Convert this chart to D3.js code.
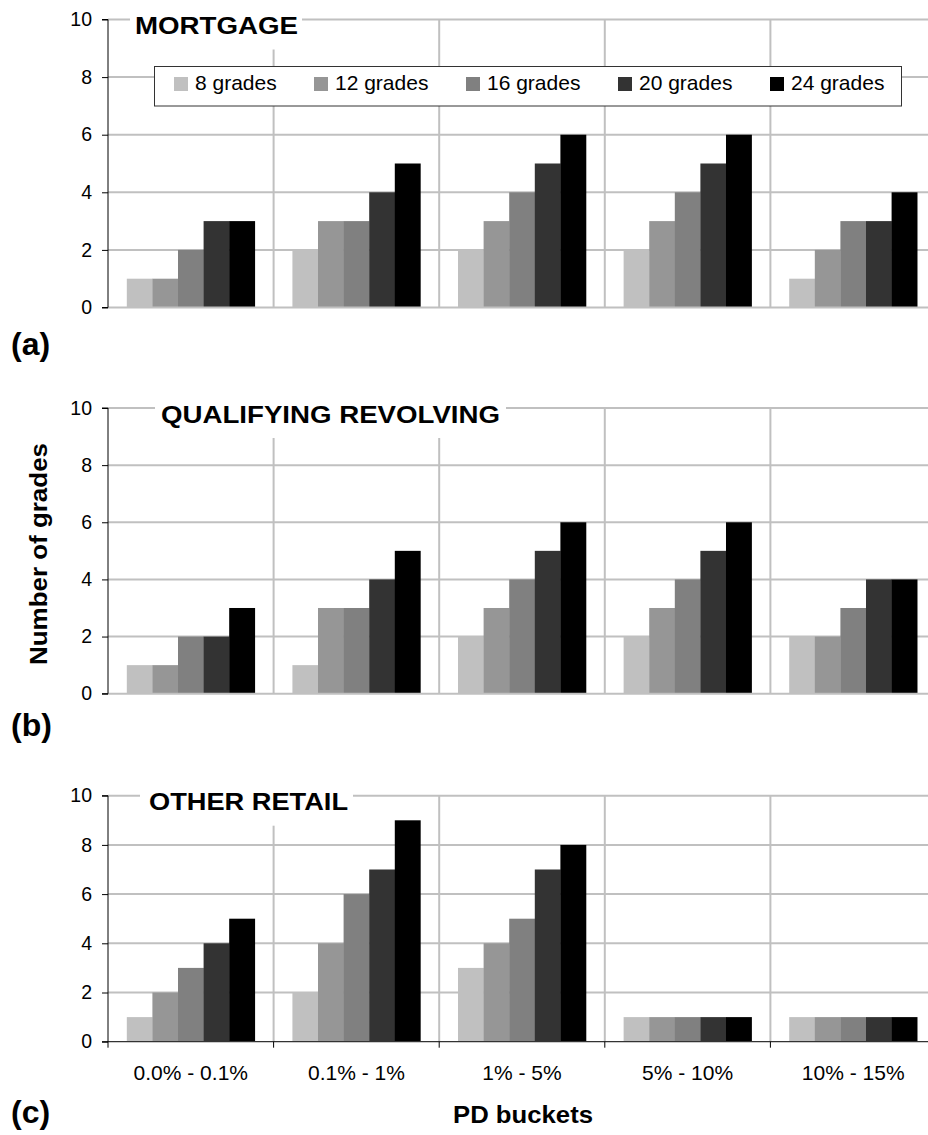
<!DOCTYPE html>
<html>
<head>
<meta charset="utf-8">
<script src="https://cdn.jsdelivr.net/npm/d3@7"></script>
<style>
  html, body { margin: 0; padding: 0; background: #fff; }
  svg { display: block; }
  text { font-family: "Liberation Sans", Arial, sans-serif; }
</style>
</head>
<body>
<svg id="chart" width="928" height="1135"></svg>
<script>
// ---------- data ----------
const categories = ["0.0% - 0.1%", "0.1% - 1%", "1% - 5%", "5% - 10%", "10% - 15%"];
const seriesNames = ["8 grades", "12 grades", "16 grades", "20 grades", "24 grades"];
const seriesColors = ["#c0c0c0", "#969696", "#808080", "#333333", "#000000"];
// values per category, in series order
const mortgage = [[1, 1, 2, 3, 3], [2, 3, 3, 4, 5], [2, 3, 4, 5, 6], [2, 3, 4, 5, 6], [1, 2, 3, 3, 4]];
const qualifyingRevolving = [[1, 1, 2, 2, 3], [1, 3, 3, 4, 5], [2, 3, 4, 5, 6], [2, 3, 4, 5, 6], [2, 2, 3, 4, 4]];
const otherRetail = [[1, 2, 3, 4, 5], [2, 4, 6, 7, 9], [3, 4, 5, 7, 8], [1, 1, 1, 1, 1], [1, 1, 1, 1, 1]];
const yTicks = [0, 2, 4, 6, 8, 10];
const panelTitles = ["MORTGAGE", "QUALIFYING REVOLVING", "OTHER RETAIL"];
const panelLetters = ["(a)", "(b)", "(c)"];
const yAxisTitle = "Number of grades";
const xAxisTitle = "PD buckets";

// ---------- layout ----------
const svg = d3.select("#chart");
const left = 108, right = 936;
const grid = "#c0c0c0";
const gridW = 2;

const x0 = d3.scaleBand().domain(categories).range([left, right]).paddingInner(0).paddingOuter(0);
const x1 = d3.scaleBand().domain(seriesNames).range([0, x0.bandwidth()]).paddingInner(0).paddingOuter(0.735);
const legendX = d3.scaleOrdinal().domain(seriesNames).range([174, 314, 466, 618, 770]);

const panels = [
  { data: mortgage, top: 19.5, bottom: 307.5, titleX: 135, titleW: 163, boxX: 130, boxW: 172, letterY: 355, darkBase: false },
  { data: qualifyingRevolving, top: 408, bottom: 693.7, titleX: 161, titleW: 339, boxX: 155, boxW: 351, letterY: 736, darkBase: false },
  { data: otherRetail, top: 795.7, bottom: 1041.7, titleX: 149, titleW: 199, boxX: 140, boxW: 213, letterY: 1123, darkBase: true }
];

panels.forEach((p, pi) => {
  const y = d3.scaleLinear().domain([0, 10]).range([p.bottom, p.top]);
  const g = svg.append("g");

  // horizontal gridlines
  g.selectAll("line.hgrid").data(yTicks.filter(d => d > 0)).join("line")
    .attr("x1", left).attr("x2", right)
    .attr("y1", d => y(d)).attr("y2", d => y(d))
    .attr("stroke", grid).attr("stroke-width", gridW);

  // vertical gridlines at category boundaries
  g.selectAll("line.vgrid").data(categories.slice(1)).join("line")
    .attr("x1", d => x0(d)).attr("x2", d => x0(d))
    .attr("y1", y(10)).attr("y2", y(0))
    .attr("stroke", grid).attr("stroke-width", gridW);

  // title box (white) covering gridlines
  g.append("rect")
    .attr("x", p.boxX).attr("y", y(10) - 12)
    .attr("width", p.boxW).attr("height", 42)
    .attr("fill", "#fff");
  g.append("text")
    .attr("x", p.titleX).attr("y", y(10) + 14.5)
    .attr("font-size", 24).attr("font-weight", "bold")
    .attr("textLength", p.titleW).attr("lengthAdjust", "spacingAndGlyphs")
    .attr("fill", "#000")
    .text(panelTitles[pi]);

  // bars
  const groups = g.selectAll("g.cat").data(p.data).join("g")
    .attr("transform", (d, i) => `translate(${x0(categories[i])},0)`);
  groups.selectAll("rect").data(d => d.map((v, j) => ({ v, s: seriesNames[j], c: seriesColors[j] }))).join("rect")
    .attr("x", d => x1(d.s))
    .attr("width", x1.bandwidth() + 0.3)
    .attr("y", d => y(d.v))
    .attr("height", d => y(0) - y(d.v))
    .attr("fill", d => d.c);

  // baseline
  g.append("line")
    .attr("x1", left).attr("x2", right)
    .attr("y1", y(0)).attr("y2", y(0))
    .attr("stroke", p.darkBase ? "#333" : grid)
    .attr("stroke-width", p.darkBase ? 1.3 : gridW);

  if (p.darkBase) {
    // boundary ticks
    g.selectAll("line.xtick").data(categories.concat(["end"])).join("line")
      .attr("x1", (d, i) => i < categories.length ? x0(d) : right)
      .attr("x2", (d, i) => i < categories.length ? x0(d) : right)
      .attr("y1", y(0)).attr("y2", y(0) + 6)
      .attr("stroke", "#000").attr("stroke-width", 1);
    // category labels
    const xa = g.append("g").attr("transform", `translate(0,${y(0)})`)
      .call(d3.axisBottom(x0).tickSize(0).tickPadding(23));
    xa.select(".domain").remove();
    xa.selectAll("text")
      .attr("font-size", 21)
      .attr("font-family", "'Liberation Sans', Arial, sans-serif")
      .attr("fill", "#000");
  }

  // left axis
  const ya = g.append("g").attr("transform", `translate(${left},0)`)
    .call(d3.axisLeft(y).tickValues(yTicks).tickSize(6).tickPadding(10).tickFormat(d3.format("d")));
  ya.select(".domain").attr("stroke", "#000").attr("d", `M-6,${y(10)}H0V${y(0)}H-6`);
  ya.selectAll(".tick line").attr("stroke", "#000");
  ya.selectAll("text")
    .attr("font-size", 19.5)
    .attr("font-family", "'Liberation Sans', Arial, sans-serif")
    .attr("fill", "#000");

  // panel letter
  svg.append("text")
    .attr("x", 11).attr("y", p.letterY)
    .attr("font-size", 32).attr("font-weight", "bold")
    .attr("fill", "#000")
    .text(panelLetters[pi]);

  // legend only in first panel
  if (pi === 0) {
    const lg = svg.append("g");
    lg.append("rect")
      .attr("x", 154.5).attr("y", 66.5)
      .attr("width", 747).attr("height", 39.5)
      .attr("fill", "#fff").attr("stroke", "#333").attr("stroke-width", 1);
    const items = lg.selectAll("g.item").data(seriesNames).join("g")
      .attr("transform", d => `translate(${legendX(d)},0)`);
    items.append("rect")
      .attr("x", 0).attr("y", 77).attr("width", 14).attr("height", 14)
      .attr("fill", (d, j) => seriesColors[j]);
    items.append("text")
      .attr("x", 21).attr("y", 90)
      .attr("font-size", 21).attr("fill", "#000")
      .text(d => d);
  }
});

// axis titles
svg.append("text")
  .attr("transform", "translate(46.5,554) rotate(-90)")
  .attr("text-anchor", "middle")
  .attr("font-size", 23).attr("font-weight", "bold")
  .attr("textLength", 222).attr("lengthAdjust", "spacingAndGlyphs")
  .attr("fill", "#000")
  .text(yAxisTitle);

svg.append("text")
  .attr("x", 523).attr("y", 1123)
  .attr("text-anchor", "middle")
  .attr("font-size", 24.5).attr("font-weight", "bold")
  .attr("textLength", 140).attr("lengthAdjust", "spacingAndGlyphs")
  .attr("fill", "#000")
  .text(xAxisTitle);
</script>
</body>
</html>
